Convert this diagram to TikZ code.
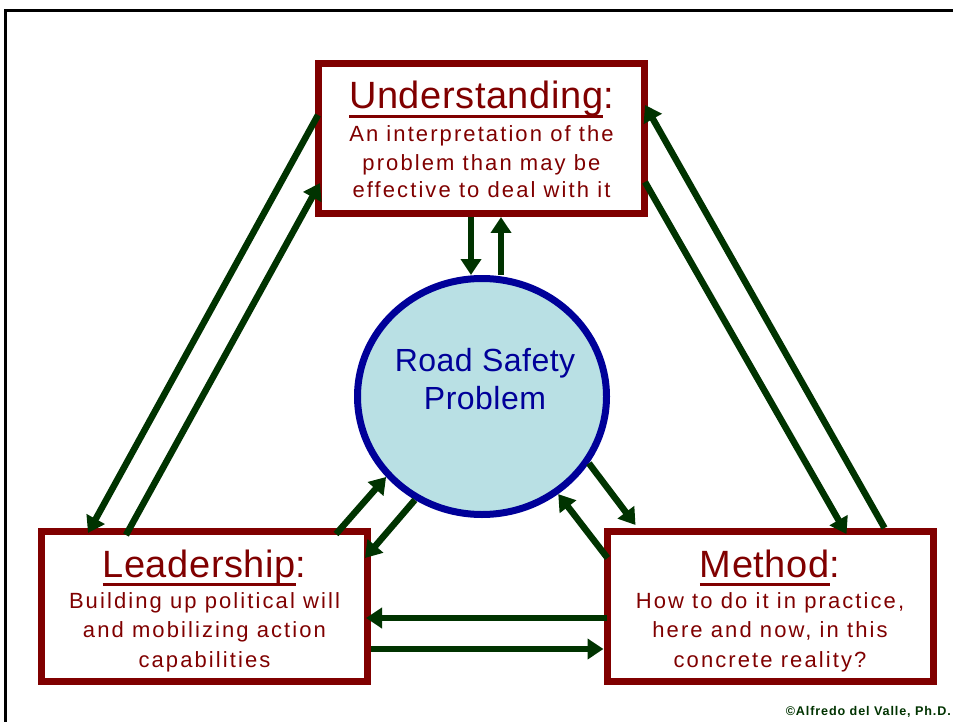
\documentclass[tikz,border=0pt]{standalone}
\usepackage{fontspec}
\setmainfont{Liberation Sans}
\newfontfamily\bodyfont[LetterSpace=9.5]{Liberation Sans}
\newfontfamily\headfont[LetterSpace=1.5]{Liberation Sans}
\newfontfamily\creditfont[LetterSpace=7]{Liberation Sans}
\usetikzlibrary{arrows.meta,shapes.geometric}
\definecolor{boxred}{HTML}{800000}
\definecolor{arrowgreen}{HTML}{003300}
\definecolor{hubblue}{HTML}{000099}
\definecolor{hubfill}{HTML}{B9E0E4}
% underline a word at a fixed distance below the baseline
\newcommand\ulword[1]{\setbox0\hbox{#1}\rlap{\rule[-9pt]{\wd0}{2.6pt}}\box0}
\begin{document}
\begin{tikzpicture}[x=1pt,y=-1pt,
  box/.style={draw=boxred, line width=7pt, fill=white, minimum width=326pt,
    minimum height=150pt, inner sep=0pt},
  hub/.style={ellipse, draw=hubblue, line width=7pt, fill=hubfill,
    minimum width=249pt, minimum height=236pt, inner sep=0pt},
  heading/.style={text=boxred, inner sep=0pt, anchor=base,
    font=\headfont\fontsize{38}{44}\selectfont},
  body/.style={text=boxred, inner sep=0pt, anchor=base, align=center,
    font=\bodyfont\fontsize{22}{29.5}\selectfont},
  hubtext/.style={text=hubblue, inner sep=0pt, anchor=base, align=center,
    font=\headfont\fontsize{32}{38}\selectfont},
  arr/.style={draw=arrowgreen, line width=6.5pt, -{Triangle[width=20pt,length=16pt]}},
]
\useasboundingbox (0,0) rectangle (953,722);
\clip (0,0) rectangle (953,722);
\fill[white] (0,0) rectangle (953,722);

% outer frame
\draw[line width=3pt] (5.3,740) -- (5.3,10.7) -- (970,10.7);

% the three boxes and the hub
\node[box] (U) at (481.5,138.5) {};
\node[box] (L) at (204.5,606.5) {};
\node[box] (M) at (770,606.5) {};
\node[hub] (C) at (482,396.5) {};

% texts (multi-line nodes sit on the baseline of their last line)
\node[heading] (Uh) at ([yshift=-49pt]U.north) {\ulword{Understanding}:};
\node[body, font=\bodyfont\fontsize{22}{28}\selectfont] (Ub) at ([yshift=-138pt]U.north)
  {An interpretation of the\\problem than may be\\effective to deal with it};
\node[heading] (Lh) at ([yshift=-49pt]L.north) {\ulword{Leadership}:};
\node[body] (Lb) at ([yshift=-139pt]L.north)
  {Building up political will\\and mobilizing action\\capabilities};
\node[heading] (Mh) at ([yshift=-49pt]M.north) {\ulword{Method}:};
\node[body] (Mb) at ([yshift=-139pt]M.north)
  {How to do it in practice,\\here and now, in this\\concrete reality?};
\node[hubtext] (Ct) at ([xshift=3pt,yshift=-12.5pt]C.center) {Road Safety\\Problem};

\node[text=arrowgreen, anchor=base east, inner sep=0pt,
  font=\creditfont\bfseries\fontsize{12.6}{14}\selectfont] (cr) at (951,715)
  {©Alfredo del Valle, Ph.D.};

% understanding <-> hub
\coordinate (u1) at ([xshift=-10.5pt]U.south);
\coordinate (u2) at ([xshift=19.5pt]U.south);
\draw[arr] (u1) -- (u1 |- C.north);
\draw[arr] (u2 |- C.north) -- (u2);

% understanding <-> leadership
\draw[arr] ([xshift=3pt,yshift=-55pt]U.north west) -- ([xshift=50pt,yshift=-5pt]L.north west);
\draw[arr] ([xshift=88pt,yshift=-7pt]L.north west) -- ([xshift=5pt,yshift=-123pt]U.north west);

% understanding <-> method
\draw[arr] ([xshift=-52pt]M.north east) -- ([xshift=-3pt,yshift=-45pt]U.north east);
\draw[arr] ([xshift=-3pt,yshift=-122pt]U.north east) -- ([xshift=-90pt,yshift=-6pt]M.north east);

% hub <-> leadership
\draw[arr] ([xshift=-35pt,yshift=-6pt]L.north east) -- (C.220);
\draw[arr] (C.237.6) -- ([xshift=-6pt,yshift=-30pt]L.north east);

% hub <-> method
\draw[arr] (C.328) -- ([xshift=32pt,yshift=3pt]M.north west);
\draw[arr] ([xshift=4pt,yshift=-30pt]M.north west) -- (C.308);

% leadership <-> method
\coordinate (h1) at ([xshift=3pt,yshift=-11.5pt]M.west);
\coordinate (h2) at ([yshift=-42.5pt]L.east);
\draw[arr, shorten >=-5pt] (h1) -- (h1 -| L.east);
\draw[arr] (h2) -- (h2 -| M.west);
\end{tikzpicture}
\end{document}
